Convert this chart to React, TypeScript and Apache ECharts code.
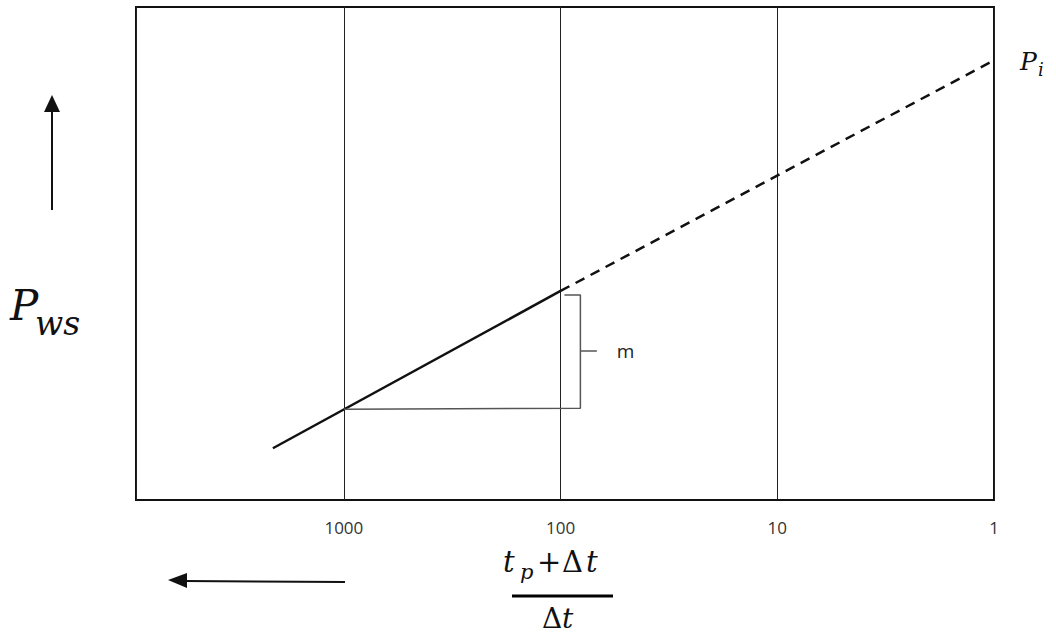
import React, { useEffect, useRef } from 'react';
import * as echarts from 'echarts';

// x axis: (tp + Δt)/Δt, log scale, decreasing to the right
const xTickValues = [1000, 100, 10, 1];
const xMin = 1;
const xMax = 9100;

// measured straight-line portion (solid) and its extrapolation to Pi (dashed)
const solidLine: [number, number][] = [[2125, 10.5], [100, 42.4]];
const dashedLine: [number, number][] = [[100, 42.4], [1, 89.2]];

// slope bracket: one log cycle (1000 -> 100) and the pressure change m
const slopeBracket: [number, number][] = [[1000, 18.4], [81, 18.6], [81, 41.6], [96, 41.6]];
const slopeTick: [number, number][] = [[81, 30.2], [68, 30.2]];

const serif = '"DejaVu Serif", serif';

export default function App() {
  const ref = useRef<HTMLDivElement>(null);

  useEffect(() => {
    const chart = echarts.init(ref.current!, null, { renderer: 'svg' });
    const isTick = (v: number) => xTickValues.some((t) => Math.abs(Math.log10(v) - Math.log10(t)) < 1e-6);

    chart.setOption({
      animation: false,
      backgroundColor: '#fff',
      grid: {
        left: 136,
        right: 62,
        top: 7,
        bottom: 142,
        show: true,
        borderColor: '#111',
        borderWidth: 2,
      },
      xAxis: {
        type: 'log',
        logBase: 10,
        inverse: true,
        min: xMin,
        max: xMax,
        axisLine: { show: false },
        axisTick: { show: false },
        axisLabel: {
          margin: 19,
          fontFamily: '"Open Sans", sans-serif',
          fontSize: 17,
          color: '#333',
          formatter: (v: number) => (isTick(v) ? String(Math.round(v)) : ''),
        },
        splitLine: {
          show: true,
          lineStyle: { color: '#222', width: 1 },
        },
      },
      yAxis: {
        type: 'value',
        min: 0,
        max: 100,
        axisLine: { show: false },
        axisTick: { show: false },
        axisLabel: { show: false },
        splitLine: { show: false },
      },
      series: [
        {
          type: 'line',
          data: solidLine,
          symbol: 'none',
          lineStyle: { color: '#111', width: 2.5 },
        },
        {
          type: 'line',
          data: dashedLine,
          symbol: 'none',
          lineStyle: { color: '#111', width: 2.5, type: [10, 7] },
        },
        {
          type: 'line',
          data: slopeBracket,
          symbol: 'none',
          lineStyle: { color: '#555', width: 1.5 },
        },
        {
          type: 'line',
          data: slopeTick,
          symbol: 'circle',
          symbolSize: 0,
          showSymbol: true,
          lineStyle: { color: '#555', width: 1.5 },
          label: {
            show: true,
            position: 'right',
            distance: 20,
            formatter: (p: any) => (p.dataIndex === slopeTick.length - 1 ? 'm' : ''),
            fontFamily: '"Open Sans", sans-serif',
            fontSize: 19,
            color: '#222',
          },
        },
      ],
      graphic: [
        // Pi label
        { type: 'text', left: 1020, top: 49, style: { text: 'P', font: `italic 25px ${serif}`, fill: '#111' } },
        { type: 'text', left: 1038, top: 60, style: { text: 'i', font: `italic 18px ${serif}`, fill: '#111' } },
        // y axis name Pws
        { type: 'text', left: 10, top: 284, style: { text: 'P', font: `italic 42px ${serif}`, fill: '#111' } },
        { type: 'text', left: 35, top: 307, style: { text: 'ws', font: `italic 33px ${serif}`, fill: '#111' } },
        // up arrow
        { type: 'line', shape: { x1: 52, y1: 210, x2: 52, y2: 110 }, style: { stroke: '#111', lineWidth: 2 } },
        { type: 'polygon', shape: { points: [[44, 112], [60, 112], [52, 95]] }, style: { fill: '#111' } },
        // left arrow
        { type: 'line', shape: { x1: 345, y1: 582, x2: 184, y2: 581 }, style: { stroke: '#111', lineWidth: 2 } },
        { type: 'polygon', shape: { points: [[187, 573], [187, 588], [168, 580]] }, style: { fill: '#111' } },
        // x axis name: (tp + Δt) / Δt
        { type: 'text', left: 503, top: 547, style: { text: 't', font: `italic 29px ${serif}`, fill: '#111' } },
        { type: 'text', left: 520, top: 561, style: { text: 'p', font: `italic 21px ${serif}`, fill: '#111' } },
        { type: 'text', left: 537, top: 547, style: { text: '+', font: `29px ${serif}`, fill: '#111' } },
        { type: 'text', left: 562, top: 547, style: { text: 'Δ', font: `29px ${serif}`, fill: '#111' } },
        { type: 'text', left: 586, top: 547, style: { text: 't', font: `italic 29px ${serif}`, fill: '#111' } },
        { type: 'line', shape: { x1: 512, y1: 596, x2: 613, y2: 596 }, style: { stroke: '#000', lineWidth: 3 } },
        { type: 'text', left: 542, top: 604, style: { text: 'Δ', font: `28px ${serif}`, fill: '#111' } },
        { type: 'text', left: 562, top: 604, style: { text: 't', font: `italic 28px ${serif}`, fill: '#111' } },
      ],
    });

    return () => chart.dispose();
  }, []);

  return (
    <div
      ref={ref}
      style={{ position: 'absolute', left: 0, top: 0, width: 1056, height: 642, background: '#fff' }}
    />
  );
}
